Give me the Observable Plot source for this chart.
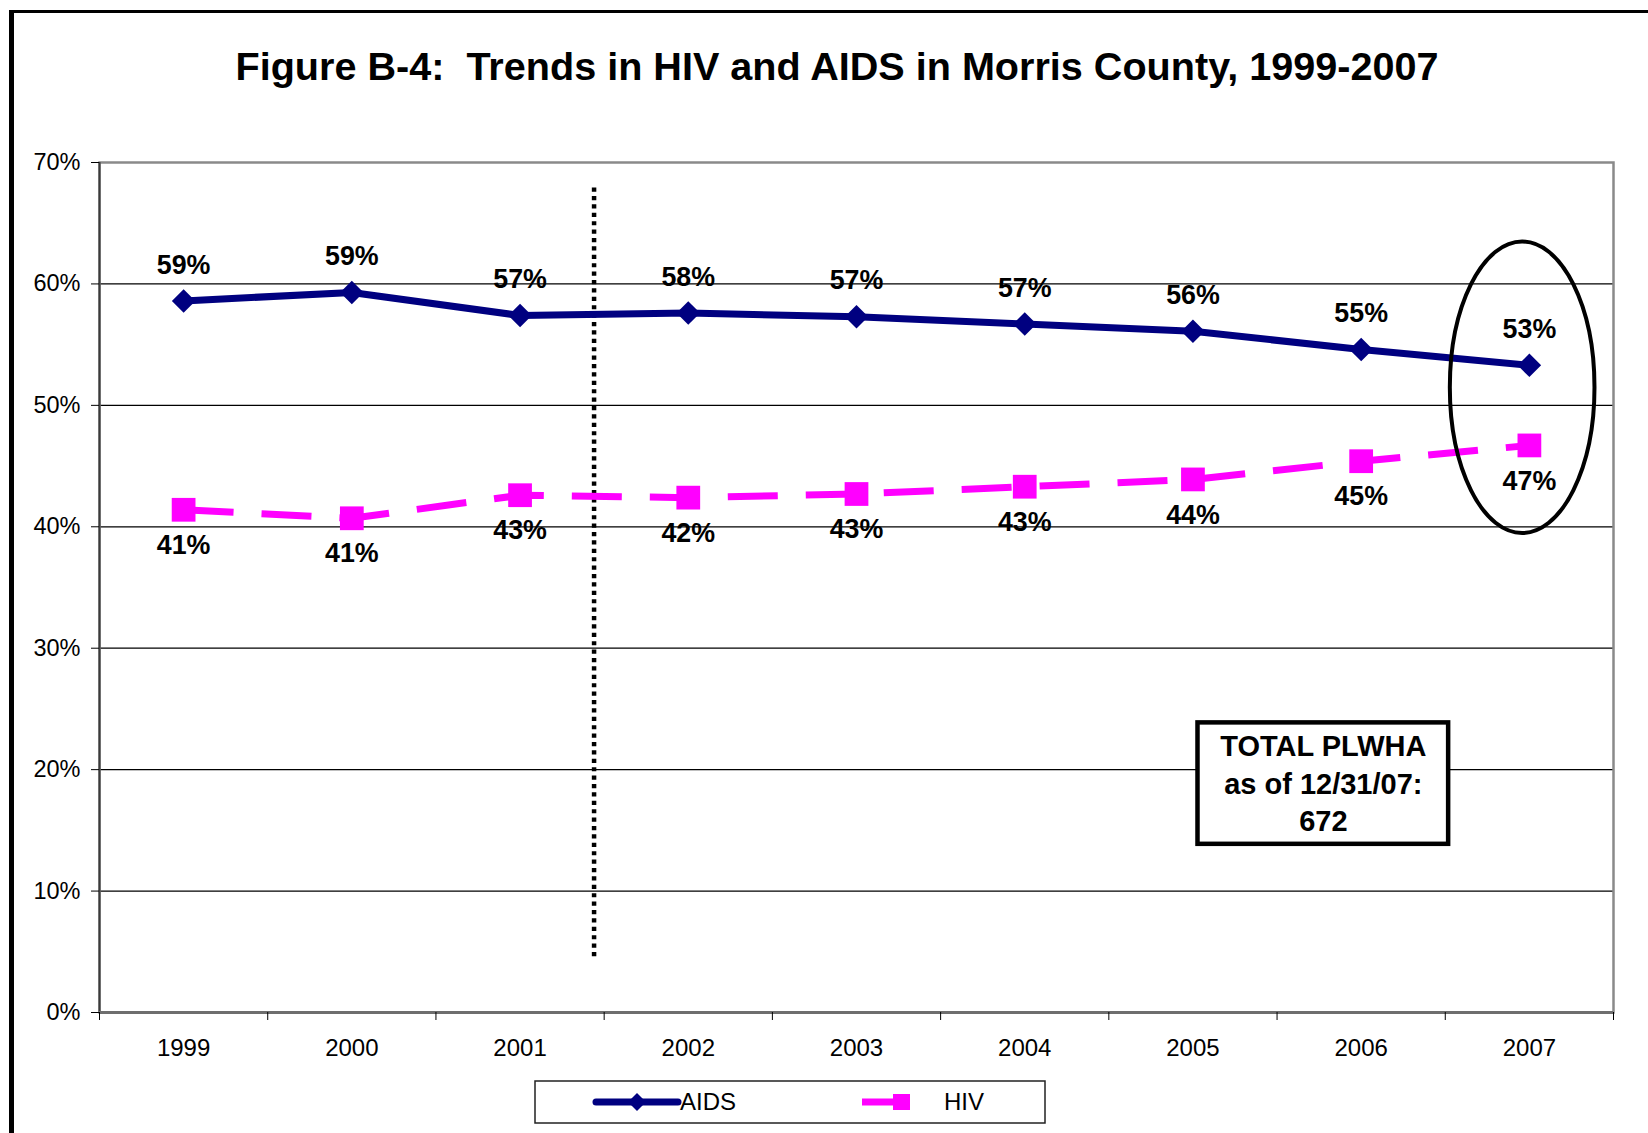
<!DOCTYPE html>
<html><head><meta charset="utf-8">
<script src="https://cdn.jsdelivr.net/npm/d3@7"></script>
<script src="https://cdn.jsdelivr.net/npm/@observablehq/plot@0.6"></script>
<style>
html,body{margin:0;padding:0;background:#fff;overflow:hidden;width:1648px;height:1133px;}
#page{position:relative;width:1648px;height:1133px;font-family:"Liberation Sans",Arial,sans-serif;color:#000;}
#frame{position:absolute;left:9px;top:10px;width:2000px;height:2000px;border-left:5px solid #000;border-top:3px solid #000;}
#title{position:absolute;left:0;top:46px;width:1674px;text-align:center;font-weight:bold;font-size:39.6px;line-height:40px;white-space:pre;}
#chart{position:absolute;left:0;top:100px;}
#legend{position:absolute;left:534px;top:1080px;}
</style></head>
<body><div id="page"><div id="frame"></div><div id="title"></div><div id="chart"></div><div id="legend"></div></div>
<script>
const titleText = "Figure B-4:  Trends in HIV and AIDS in Morris County, 1999-2007";
const years = [1999, 2000, 2001, 2002, 2003, 2004, 2005, 2006, 2007];
const aidsPct = [58.6, 59.3, 57.4, 57.6, 57.3, 56.7, 56.1, 54.6, 53.3];
const hivPct = [41.4, 40.7, 42.6, 42.4, 42.7, 43.3, 43.9, 45.4, 46.7];
const yTicks = [0, 10, 20, 30, 40, 50, 60, 70];
const seriesNames = ["AIDS", "HIV"];
const seriesColors = ["#000080", "#FF00FF"];
const noteLines = ["TOTAL PLWHA", "as of 12/31/07:", "672"];
const dividerLine = [{x: 2001.44, y1: 4.6, y2: 68.25}];
const highlightEllipse = [{x: 2006.96, y: 51.45, rx: 0.43, ry: 12.0}];
const noteBox = [{x1: 2005.03, x2: 2006.52, y1: 13.85, y2: 23.85}];

document.getElementById("title").textContent = titleText;

const bandEdges = years.map(y => y - 0.5).concat([years[years.length - 1] + 0.5]);
const aids = years.map((year, i) => ({year, value: aidsPct[i]}));
const hiv = years.map((year, i) => ({year, value: hivPct[i]}));
const fmt = v => Math.round(v) + "%";
const font = '"Liberation Sans", Arial, sans-serif';

function ellipseMark(index, scales) {
  const g = d3.create("svg:g");
  for (const e of highlightEllipse) {
    const cx = scales.x(e.x), cy = scales.y(e.y);
    g.append("ellipse")
      .attr("cx", cx).attr("cy", cy)
      .attr("rx", Math.abs(scales.x(e.x + e.rx) - cx))
      .attr("ry", Math.abs(scales.y(e.y + e.ry) - cy))
      .attr("fill", "none").attr("stroke", "#000").attr("stroke-width", 4);
  }
  return g.node();
}

const nb = noteBox[0];
const plot = Plot.plot({
  width: 1648, height: 975,
  marginLeft: 99, marginRight: 35, marginTop: 62, marginBottom: 63,
  style: {fontFamily: font, background: "transparent", color: "#000"},
  x: {type: "linear", domain: [bandEdges[0], bandEdges[bandEdges.length - 1]]},
  y: {domain: [0, 70]},
  marks: [
    Plot.gridY(yTicks.filter(t => t > 0 && t < 70), {stroke: "#000", strokeOpacity: 1, strokeWidth: 1.2}),
    Plot.frame({stroke: "#8a8a8a", strokeWidth: 2.5}),
    Plot.ruleX([bandEdges[0]], {stroke: "#3a3a3a", strokeWidth: 2}),
    Plot.ruleY([0], {stroke: "#6e6e6e", strokeWidth: 3}),
    Plot.axisY({ticks: yTicks, tickFormat: d => d + "%", tickSize: 8, tickPadding: 11, fontSize: 23.5, label: null}),
    Plot.axisX({ticks: bandEdges, tickFormat: () => "", tickSize: 8, label: null}),
    Plot.axisX({ticks: years, tickFormat: d => String(d), tickSize: 0, tickPadding: 26, fontSize: 24, label: null}),
    Plot.ruleX(dividerLine, {x: "x", y1: "y1", y2: "y2", stroke: "#000", strokeWidth: 4.5, strokeDasharray: "4.2,4.2"}),
    Plot.rect(noteBox, {x1: "x1", x2: "x2", y1: "y1", y2: "y2", fill: "#fff", stroke: "#000", strokeWidth: 4.5}),
    Plot.text([noteLines.join("\n")], {x: (nb.x1 + nb.x2) / 2, y: (nb.y1 + nb.y2) / 2 + 0.15, text: d => d, lineHeight: 1.29, fontSize: 29, fontWeight: "bold", fill: "#000"}),
    Plot.line(aids, {x: "year", y: "value", stroke: seriesColors[0], strokeWidth: 7, strokeLinejoin: "round"}),
    Plot.dot(aids, {x: "year", y: "value", symbol: "diamond2", r: 10.6, fill: seriesColors[0], stroke: "none"}),
    Plot.line(hiv, {x: "year", y: "value", stroke: seriesColors[1], strokeWidth: 7, strokeDasharray: "50,28", strokeLinecap: "butt"}),
    Plot.dot(hiv, {x: "year", y: "value", symbol: "square", r: 13.4, fill: seriesColors[1], stroke: "none"}),
    Plot.text(aids, {x: "year", y: "value", text: d => fmt(d.value), dy: -36, fontSize: 26.8, fontWeight: "bold", fill: "#000"}),
    Plot.text(hiv, {x: "year", y: "value", text: d => fmt(d.value), dy: 35.5, fontSize: 26.8, fontWeight: "bold", fill: "#000"}),
    ellipseMark
  ]
});
document.getElementById("chart").appendChild(plot);

// Legend
const lg = d3.select("#legend").append("svg").attr("width", 514).attr("height", 46)
  .style("font-family", font);
lg.append("rect").attr("x", 1).attr("y", 1).attr("width", 510).attr("height", 42)
  .attr("fill", "#fff").attr("stroke", "#222").attr("stroke-width", 1.5);
// AIDS
lg.append("line").attr("x1", 62).attr("x2", 144).attr("y1", 22).attr("y2", 22)
  .attr("stroke", seriesColors[0]).attr("stroke-width", 7).attr("stroke-linecap", "round");
lg.append("path").attr("d", "M103,13L112,22L103,31L94,22Z").attr("fill", seriesColors[0]);
lg.append("text").attr("x", 146).attr("y", 22).attr("dy", "0.35em").attr("font-size", 24).text(seriesNames[0]);
// HIV
lg.append("line").attr("x1", 328).attr("x2", 370).attr("y1", 22).attr("y2", 22)
  .attr("stroke", seriesColors[1]).attr("stroke-width", 7);
lg.append("rect").attr("x", 359).attr("y", 14).attr("width", 17).attr("height", 16).attr("fill", seriesColors[1]);
lg.append("text").attr("x", 410).attr("y", 22).attr("dy", "0.35em").attr("font-size", 24).text(seriesNames[1]);
</script>
</body></html>
